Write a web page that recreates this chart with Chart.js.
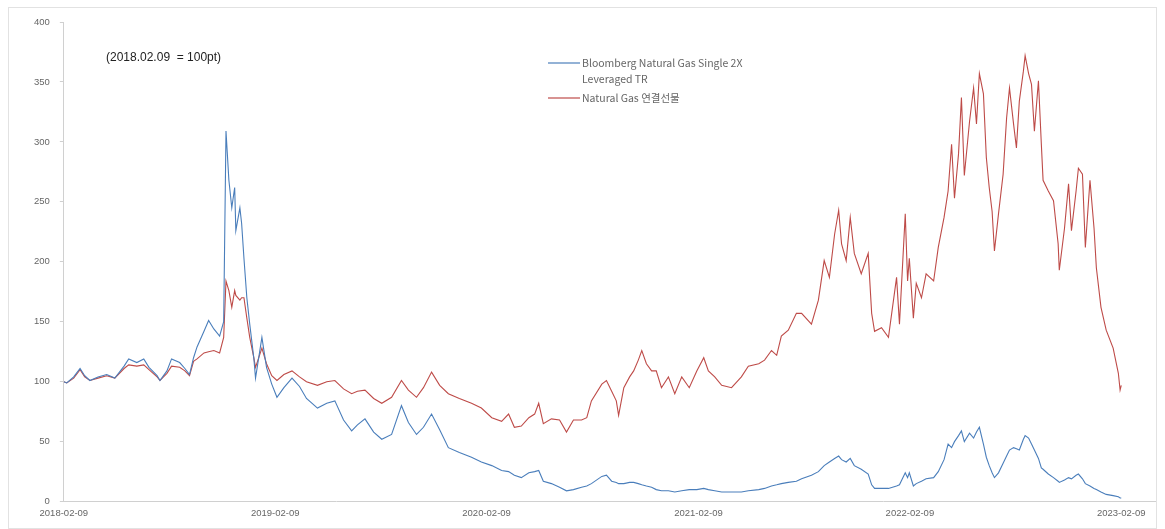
<!DOCTYPE html>
<html>
<head>
<meta charset="utf-8">
<script src="https://cdn.jsdelivr.net/npm/chart.js@4.4.0/dist/chart.umd.min.js"></script>
<style>
  html, body { margin: 0; padding: 0; background: #fff; }
  #wrap { width: 1165px; height: 529px; position: relative; }
</style>
</head>
<body>
<div id="wrap"><canvas id="gasChart"></canvas></div>
<script>
// days since 2018-02-09 for each sample
const dayOffsets = [0, 5, 17, 28, 36, 45, 59, 74, 88, 104, 112, 126, 138, 147, 161, 166, 178, 186, 200, 209,
  217, 224, 230, 242, 250, 259, 269, 276, 280, 285, 290, 295, 297, 304, 307, 311, 316, 321, 328, 331,
  342, 350, 359, 368, 380, 394, 407, 419, 438, 454, 468, 483, 497, 507, 520, 535, 549, 566, 583, 595,
  609, 621, 635, 649, 664, 683, 704, 721, 739, 756, 768, 778, 790, 803, 813, 820, 828, 842, 856, 868,
  880, 894, 903, 911, 929, 937, 946, 954, 958, 967, 977, 984, 992, 998, 1006, 1015, 1023, 1032, 1044, 1055,
  1067, 1080, 1093, 1105, 1113, 1124, 1136, 1153, 1170, 1182, 1200, 1210, 1222, 1231, 1239, 1251, 1265, 1274, 1291, 1303,
  1313, 1322, 1331, 1338, 1343, 1351, 1358, 1365, 1377, 1389, 1395, 1400, 1412, 1424, 1438, 1443, 1453, 1457, 1460, 1467,
  1472, 1481, 1489, 1502, 1510, 1520, 1527, 1533, 1538, 1545, 1550, 1555, 1564, 1571, 1576, 1581, 1588, 1593, 1598, 1603,
  1607, 1614, 1622, 1628, 1633, 1640, 1645, 1650, 1657, 1660, 1666, 1671, 1676, 1683, 1688, 1691, 1700, 1709, 1717, 1719,
  1728, 1735, 1740, 1748, 1752, 1759, 1764, 1772, 1779, 1783, 1791, 1800, 1812, 1821, 1824, 1826];

const bloombergTR = [100, 99, 104, 111, 105, 101, 104, 106, 103, 113, 119, 116, 119, 112, 105, 101, 109, 119, 116, 111,
  106, 120, 129, 142, 151, 144, 138, 150, 309, 268, 245, 262, 226, 245, 232, 203, 170, 148, 120, 103,
  137, 112, 98, 87, 95, 103, 96, 86, 78, 82, 84, 68, 59, 64, 69, 58, 52, 56, 80, 66,
  56, 62, 73, 60, 45, 41, 37, 33, 30, 26, 25, 22, 20, 24, 25, 26, 17, 15, 12, 9,
  10, 12, 13, 15, 21, 22, 17, 16, 15, 15, 16, 16, 15, 14, 13, 12, 10, 9, 9, 8,
  9, 10, 10, 11, 10, 9, 8, 8, 8, 9, 10, 11, 13, 14, 15, 16, 17, 19, 22, 25,
  30, 33, 36, 38, 35, 33, 36, 30, 27, 23, 14, 11, 11, 11, 13, 14, 24, 20, 24, 13,
  15, 17, 19, 20, 25, 35, 48, 45, 50, 55, 59, 50, 57, 53, 58, 62, 48, 37, 30, 24,
  20, 24, 32, 38, 43, 45, 44, 43, 52, 55, 53, 48, 43, 36, 28, 27, 23, 20, 17, 16,
  18, 20, 19, 22, 23, 19, 15, 13, 11, 10, 8, 6, 5, 4, 3, 3];

const naturalGasCont = [100, 99, 103, 110, 104, 101, 103, 105, 103, 111, 114, 113, 114, 110, 104, 101, 107, 113, 112, 109,
  105, 117, 119, 124, 125, 126, 124, 137, 184, 176, 162, 176, 172, 168, 170, 170, 153, 137, 120, 112,
  128, 115, 105, 101, 106, 109, 104, 100, 97, 100, 101, 94, 90, 92, 93, 86, 82, 87, 101, 93,
  87, 95, 108, 97, 90, 86, 82, 78, 70, 67, 73, 62, 63, 70, 73, 82, 65, 69, 68, 58,
  68, 68, 70, 84, 98, 101, 92, 84, 72, 95, 104, 109, 118, 126, 115, 109, 109, 95, 104, 90,
  104, 95, 109, 120, 109, 104, 97, 95, 104, 113, 115, 118, 126, 122, 138, 143, 157, 157, 148, 168,
  201, 187, 223, 243, 215, 201, 237, 207, 190, 207, 157, 142, 145, 137, 187, 148, 240, 184, 203, 153,
  182, 170, 190, 184, 212, 237, 259, 298, 253, 290, 337, 272, 317, 345, 315, 357, 340, 287, 262, 242,
  209, 240, 273, 320, 345, 315, 295, 334, 359, 372, 357, 348, 309, 351, 298, 268, 259, 251, 215, 193,
  228, 265, 226, 259, 278, 273, 212, 268, 228, 195, 162, 143, 128, 107, 93, 97];

const yearTicks = [0, 365, 730, 1096, 1461, 1826];
const yearLabels = ['2018-02-09', '2019-02-09', '2020-02-09', '2021-02-09', '2022-02-09', '2023-02-09'];
const seriesNames = ['Bloomberg Natural Gas Single 2X Leveraged TR', 'Natural Gas 연결선물'];

const toPoints = vals => vals.map((v, i) => ({ x: dayOffsets[i], y: v }));

// legend + note drawn by hand, the legend label wraps on two lines
const notePlugin = {
  id: 'notes',
  afterDraw(chart) {
    const c = chart.ctx;
    c.save();
    c.fillStyle = '#222';
    c.font = '12px "Liberation Sans", Arial, sans-serif';
    c.textBaseline = 'middle';
    c.fillText('(2018.02.09  = 100pt)', 106, 58);

    c.font = '10.5px "Noto Sans CJK KR", "Liberation Sans", sans-serif';
    c.fillStyle = '#666';
    const rows = [
      { ds: 0, lines: ['Bloomberg Natural Gas Single 2X', 'Leveraged TR'], y: 63 },
      { ds: 1, lines: ['Natural Gas 연결선물'], y: 98 }
    ];
    rows.forEach(r => {
      c.strokeStyle = chart.data.datasets[r.ds].borderColor;
      c.lineWidth = 1.2;
      c.beginPath();
      c.moveTo(548, r.y);
      c.lineTo(580, r.y);
      c.stroke();
      r.lines.forEach((t, k) => c.fillText(t, 582, r.y + k * 16));
    });

    // thin frame round the chart
    c.strokeStyle = '#e2e2e2';
    c.lineWidth = 1;
    c.strokeRect(8.5, 7.5, chart.width - 17, chart.height - 8);
    c.restore();
  }
};

new Chart(document.getElementById('gasChart'), {
  type: 'line',
  data: {
    datasets: [
      {
        label: seriesNames[0],
        data: toPoints(bloombergTR),
        borderColor: '#4a7ebb',
        borderWidth: 1.1,
        pointRadius: 0,
        tension: 0
      },
      {
        label: seriesNames[1],
        data: toPoints(naturalGasCont),
        borderColor: '#be4b48',
        borderWidth: 1.1,
        pointRadius: 0,
        tension: 0
      }
    ]
  },
  options: {
    responsive: true,
    maintainAspectRatio: false,
    animation: false,
    layout: { padding: { top: 22, right: 9, left: 24, bottom: 4 } },
    scales: {
      x: {
        type: 'linear',
        min: 0,
        max: 1886,
        afterBuildTicks: axis => { axis.ticks = yearTicks.map(v => ({ value: v })); },
        ticks: {
          autoSkip: false,
          maxRotation: 0,
          color: '#666',
          padding: 6,
          font: { size: 9.5, family: '"Liberation Sans", Arial, sans-serif' },
          callback: (v) => yearLabels[yearTicks.indexOf(v)]
        },
        grid: { display: false, drawTicks: false },
        border: { color: '#d0d0d0' }
      },
      y: {
        min: 0,
        max: 400,
        ticks: {
          stepSize: 50,
          color: '#666',
          padding: 10,
          font: { size: 9.5, family: '"Liberation Sans", Arial, sans-serif' }
        },
        grid: { drawOnChartArea: false, tickLength: 4, color: '#d0d0d0' },
        border: { color: '#d0d0d0' }
      }
    },
    plugins: {
      legend: { display: false },
      tooltip: { enabled: false }
    }
  },
  plugins: [notePlugin]
});
</script>
</body>
</html>
